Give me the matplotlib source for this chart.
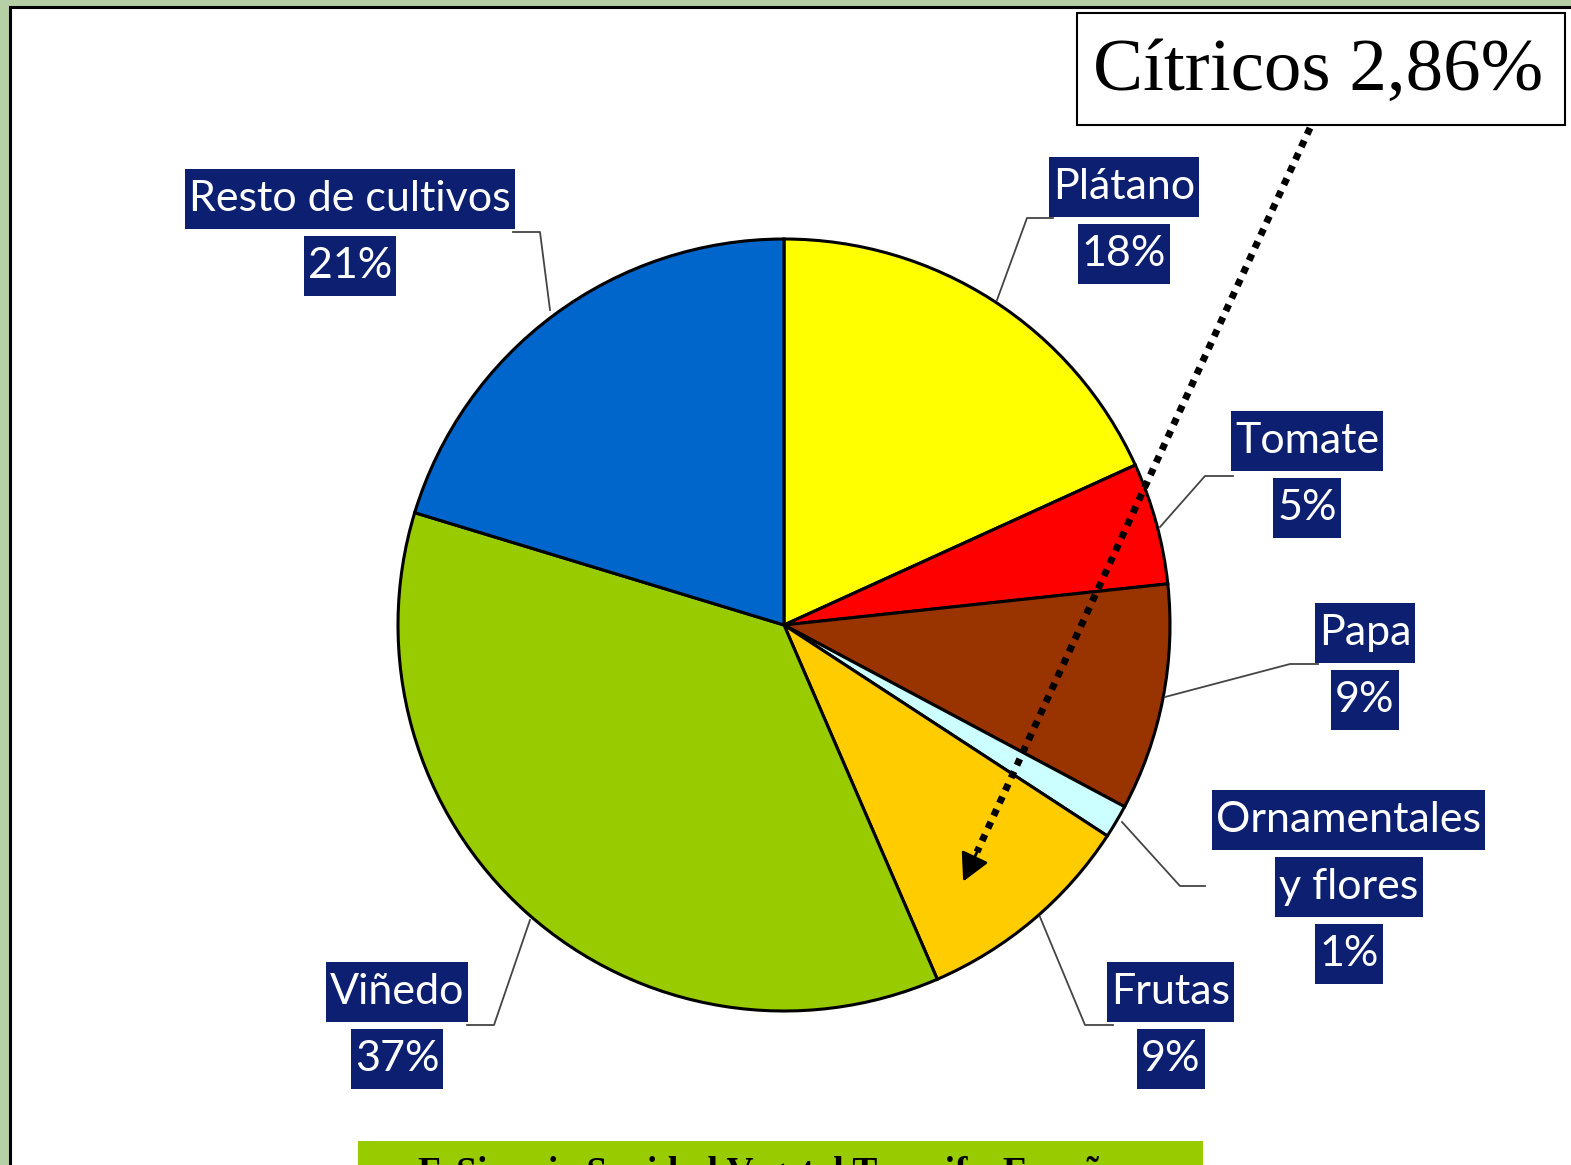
import matplotlib
matplotlib.use("Agg")
import matplotlib.pyplot as plt
from matplotlib.patches import Rectangle

# wedge shares as measured on the picture (clockwise from 12 o'clock)
cultivos = ['Plátano', 'Tomate', 'Papa', 'Ornamentales y flores', 'Frutas', 'Viñedo', 'Resto de cultivos']
shares = [18.2, 5.1, 9.5, 1.4, 9.3, 36.2, 20.3]
etiquetas = ['18%', '5%', '9%', '1%', '9%', '37%', '21%']
colores = ['#FFFF00', '#FF0000', '#993300', '#CCFFFF', '#FFCC00', '#99CC00', '#0066CC']
citricos = 'Cítricos 2,86%'
fuente = 'F. Sinapia Sanidad Vegetal Tenerife. España'

W, H = 1571, 1165
fig = plt.figure(figsize=(W / 100, H / 100), dpi=100)

# background + white panel (pixel coordinates)
bg = fig.add_axes([0, 0, 1, 1], zorder=0)
bg.set_xlim(0, W)
bg.set_ylim(H, 0)
bg.axis('off')
bg.add_patch(Rectangle((0, 0), W, H, facecolor='#b7cfa5', edgecolor='none'))
bg.add_patch(Rectangle((10, 7), W, H, facecolor='white', edgecolor='black', lw=2.2))

# pie
cx, cy, r = 784, 625, 386
pie_ax = fig.add_axes([(cx - r) / W, (H - cy - r) / H, 2 * r / W, 2 * r / H], zorder=1)
pie_ax.pie(shares, colors=colores, startangle=90, counterclock=False, radius=1,
           wedgeprops=dict(edgecolor='black', linewidth=2.2))
pie_ax.set_xlim(-1, 1)
pie_ax.set_ylim(-1, 1)
pie_ax.set_aspect('auto')
pie_ax.axis('off')

# overlay for labels, leaders and arrow
ov = fig.add_axes([0, 0, 1, 1], zorder=2)
ov.set_xlim(0, W)
ov.set_ylim(H, 0)
ov.axis('off')
ov.patch.set_alpha(0)

navy = '#0c1f70'
lab_size = 31
texts = []

def label(lines, x, y0):
    for i, t in enumerate(lines):
        txt = ov.text(x, y0 + i * 67, t, ha='center', va='center', color='white',
                      fontsize=lab_size, family='Lato', zorder=5)
        texts.append((txt, x, y0 + i * 67))

label(['Resto de cultivos', etiquetas[6]], 350, 199)
label(['Plátano', etiquetas[0]], 1124, 187)
label(['Tomate', etiquetas[1]], 1307, 441)
label(['Papa', etiquetas[2]], 1365, 633)
label(['Ornamentales', 'y flores', etiquetas[3]], 1349, 820)
label(['Frutas', etiquetas[4]], 1171, 992)
label(['Viñedo', etiquetas[5]], 397, 992)

# navy boxes sized to each text line, 60 px tall like the original
fig.canvas.draw()
rend = fig.canvas.get_renderer()
for txt, x, y in texts:
    bb = txt.get_window_extent(rend)
    w = bb.width + 8
    ov.add_patch(Rectangle((x - w / 2, y - 30), w, 60, facecolor=navy,
                           edgecolor='none', zorder=4))

leaders = [
    [(550, 310), (540, 232), (513, 232)],
    [(997, 300), (1027, 218), (1053, 218)],
    [(1160, 527), (1205, 476), (1233, 476)],
    [(1165, 697), (1290, 664), (1318, 664)],
    [(1122, 822), (1180, 886), (1205, 886)],
    [(1040, 917), (1085, 1025), (1113, 1025)],
    [(530, 920), (494, 1025), (467, 1025)],
]
for pts in leaders:
    xs, ys = zip(*pts)
    ov.plot(xs, ys, color='#444444', lw=1.3)

# citricos box
ov.add_patch(Rectangle((1077, 13), 488, 112, facecolor='white', edgecolor='black', lw=1.5))
ov.text(1318, 72, citricos, ha='center', va='center', fontsize=54,
        family='Liberation Serif', color='black')

# dotted arrow
ov.plot([1310, 977], [128, 852], color='black', lw=5, linestyle=(0, (1, 1)),
        dash_capstyle='butt')
ov.annotate('', xy=(962, 884), xytext=(978, 850),
            arrowprops=dict(arrowstyle='-|>,head_width=0.9,head_length=1.7',
                            color='black', lw=2))

# bottom source bar (cut off by the image edge, as in the original)
ov.add_patch(Rectangle((358, 1141), 845, 40, facecolor='#99CC00', edgecolor='none'))
ov.text(418, 1156, fuente, ha='left', va='top', fontsize=27, fontweight='bold',
        family='Liberation Serif', color='black')

fig.savefig('out.png', dpi=100)
